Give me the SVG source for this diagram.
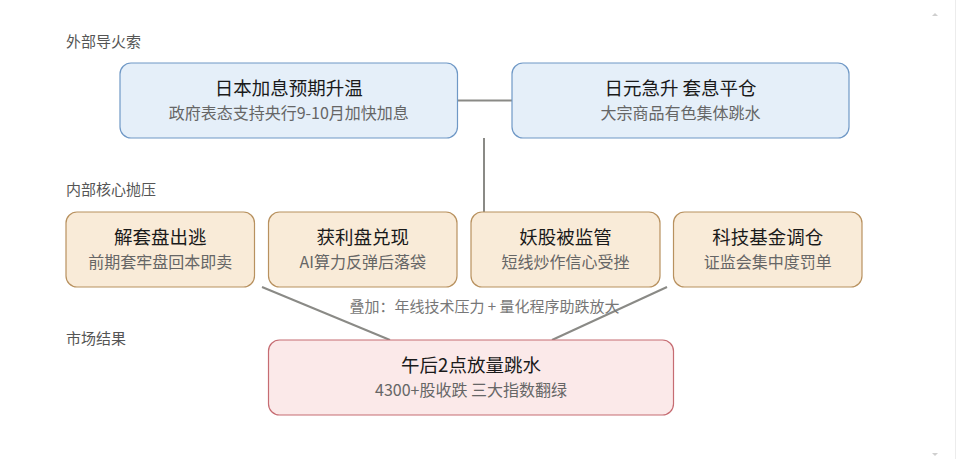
<svg xmlns="http://www.w3.org/2000/svg" width="961" height="459" viewBox="0 0 961 459">
  <style>
    text { font-family: "Noto Sans CJK SC", "Microsoft YaHei", sans-serif; }
    .sec { font-size: 15px; fill: #555555; }
    .title { font-size: 18.5px; fill: #1a1a1a; text-anchor: middle; }
    .sub { font-size: 16px; fill: #666666; text-anchor: middle; }
    .note { font-size: 15px; fill: #777777; text-anchor: middle; }
    .blue { fill: #e5eff9; stroke: #6f98c6; stroke-width: 1.2; }
    .tan { fill: #f9ebd8; stroke: #b8915f; stroke-width: 1.2; }
    .pink { fill: #fbe9e9; stroke: #c66c72; stroke-width: 1.2; }
    .conn { stroke: #8a8a86; stroke-width: 2; fill: none; }
  </style>
  <rect x="0" y="0" width="961" height="459" fill="#ffffff"/>
  <g id="scrollbar">
    <line x1="955.5" y1="0" x2="955.5" y2="459" stroke="#ececec" stroke-width="1"/>
    <polygon points="932,16 938,16 935,13" fill="#cfcfcf"/>
    <polygon points="932,453 938,453 935,456" fill="#cfcfcf"/>
  </g>

  <g id="section-labels">
    <text class="sec" x="66" y="47">外部导火索</text>
    <text class="sec" x="66" y="195">内部核心抛压</text>
    <text class="sec" x="66" y="344">市场结果</text>
  </g>

  <g id="connectors">
    <line class="conn" x1="458" y1="100.5" x2="512" y2="100.5"/>
    <line class="conn" x1="484" y1="138" x2="484" y2="212"/>
    <line class="conn" x1="262" y1="287" x2="390" y2="340"/>
    <line class="conn" x1="667" y1="287" x2="552" y2="340"/>
  </g>

  <g id="overlay-label">
    <text class="note" x="484.5" y="312" xml:space="preserve">叠加：年线技术压力 + 量化程序助跌放大</text>
  </g>

  <g id="node-japan-rate">
    <rect class="blue" x="120" y="63" width="337.5" height="75" rx="11"/>
    <text class="title" x="288.75" y="95">日本加息预期升温</text>
    <text class="sub" x="288.75" y="119">政府表态支持央行9-10月加快加息</text>
  </g>
  <g id="node-yen">
    <rect class="blue" x="512" y="63" width="337" height="75" rx="11"/>
    <text class="title" x="680.5" y="95">日元急升 套息平仓</text>
    <text class="sub" x="680.5" y="119">大宗商品有色集体跳水</text>
  </g>

  <g id="node-trapped">
    <rect class="tan" x="66" y="212" width="188.5" height="75" rx="11"/>
    <text class="title" x="160.25" y="244">解套盘出逃</text>
    <text class="sub" x="160.25" y="268">前期套牢盘回本即卖</text>
  </g>
  <g id="node-profit">
    <rect class="tan" x="268.5" y="212" width="188.5" height="75" rx="11"/>
    <text class="title" x="362.75" y="244">获利盘兑现</text>
    <text class="sub" x="362.75" y="268">AI算力反弹后落袋</text>
  </g>
  <g id="node-demon">
    <rect class="tan" x="471" y="212" width="189" height="75" rx="11"/>
    <text class="title" x="565.5" y="244">妖股被监管</text>
    <text class="sub" x="565.5" y="268">短线炒作信心受挫</text>
  </g>
  <g id="node-fund">
    <rect class="tan" x="673.5" y="212" width="188.5" height="75" rx="11"/>
    <text class="title" x="767.75" y="244">科技基金调仓</text>
    <text class="sub" x="767.75" y="268">证监会集中度罚单</text>
  </g>

  <g id="node-result">
    <rect class="pink" x="268.5" y="340" width="405" height="75" rx="11"/>
    <text class="title" x="471" y="372">午后2点放量跳水</text>
    <text class="sub" x="471" y="396">4300+股收跌 三大指数翻绿</text>
  </g>
</svg>
